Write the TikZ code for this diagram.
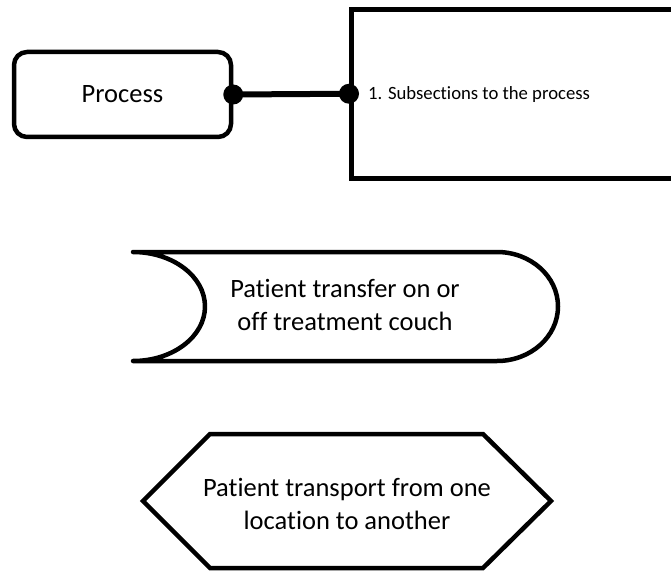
\documentclass[tikz,border=0pt]{standalone}
\usepackage{fontspec}
\setmainfont[Ligatures=NoCommon]{Carlito}
\usetikzlibrary{positioning}

\tikzset{
  bigtext/.style={font=\fontsize{26.5}{33}\selectfont, align=center, inner sep=0pt},
  smalltext/.style={font=\fontsize{18.7}{22}\selectfont, inner sep=0pt},
  procbox/.style={draw, line width=4.5pt, rounded corners=13pt,
    minimum width=217pt, minimum height=85pt, bigtext},
  subbox/.style={draw, line width=5pt, minimum width=348.5pt, minimum height=168.5pt, inner sep=0pt},
  outline/.style={draw, line width=4.5pt, line join=round},
  link/.style={line width=6pt},
  dotmark/.style={circle, fill, inner sep=0pt, minimum size=20pt}
}

\begin{document}
\begin{tikzpicture}[x=1pt, y=1pt]
  \useasboundingbox (0,0) rectangle (671,-572);
  \clip (0,0) rectangle (671,-572);

  % process and its subsection panel
  \node[procbox] (proc) at (122.5,-94.5) {Process};
  \node[subbox] (sub) at (525.75,-93.75) {};
  \node[smalltext, anchor=base west] (subtext) at (368,-100) {1. Subsections to the process};
  \draw[link] (proc.east) -- (sub.west);
  \node[dotmark] (dotA) at (proc.east) {};
  \node[dotmark] (dotB) at (sub.west) {};

  % transfer on/off couch
  \coordinate (tl) at (133,-252);
  \coordinate (tr) at (497,-252);
  \coordinate (br) at (497,-361);
  \coordinate (bl) at (133,-361);
  \draw[outline] (tl) -- (tr)
    arc[start angle=90, end angle=-90, x radius=61pt, y radius=54.5pt]
    -- (bl)
    arc[start angle=-90, end angle=90, x radius=72pt, y radius=54.5pt] -- cycle;
  \node[bigtext] (transfer) at (345,-305) {Patient transfer on or\\off treatment couch};

  % transport between locations
  \coordinate (hw) at (143,-501);
  \coordinate (htl) at (210,-434);
  \coordinate (htr) at (483,-434);
  \coordinate (he) at (551,-501);
  \coordinate (hbr) at (483,-568);
  \coordinate (hbl) at (210,-568);
  \draw[outline, line join=miter] (hw) -- (htl) -- (htr) -- (he) -- (hbr) -- (hbl) -- cycle;
  \node[bigtext] (transport) at (347,-504) {Patient transport from one\\location to another};
\end{tikzpicture}
\end{document}
